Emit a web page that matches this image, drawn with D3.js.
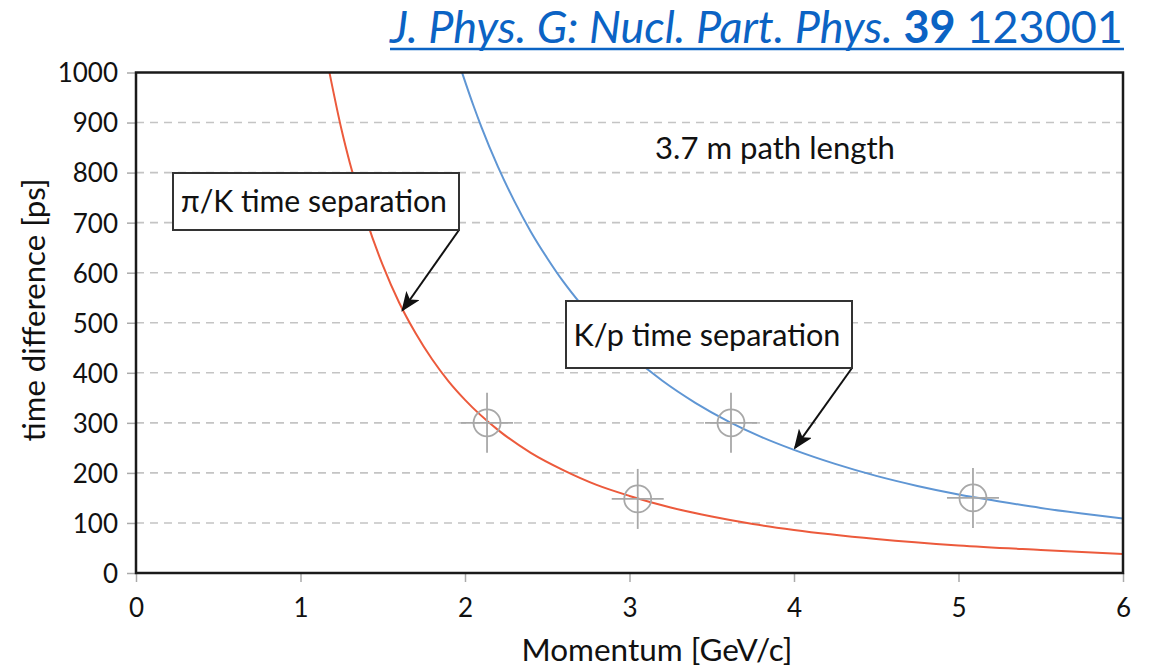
<!DOCTYPE html>
<html>
<head>
<meta charset="utf-8">
<script src="https://cdn.jsdelivr.net/npm/d3@7"></script>
<style>
  body { margin: 0; background: #fff; }
  svg { display: block; }
  text { font-family: Lato, "Open Sans", sans-serif; }
</style>
</head>
<body>
<svg id="chart" width="1158" height="669"></svg>
<script>
// Time-of-flight difference over a 3.7 m flight path, in ps, vs momentum (GeV/c)
const piKMomentum = [1.176, 1.25, 1.3, 1.4, 1.5, 1.6, 1.7, 1.8, 1.9, 2.0, 2.2, 2.4, 2.6, 2.8, 3.0, 3.25, 3.5, 3.75, 4.0, 4.5, 5.0, 5.5, 6.0];
const piKDelta    = [1000, 885, 819, 706, 615, 540, 479, 427, 383, 346, 286, 240, 205, 176, 154, 131, 113, 98, 86, 68, 55, 46, 38];

const kpMomentum = [1.982, 2.05, 2.1, 2.2, 2.3, 2.4, 2.5, 2.6, 2.7, 2.8, 2.9, 3.0, 3.2, 3.4, 3.6, 3.8, 4.0, 4.25, 4.5, 4.75, 5.0, 5.25, 5.5, 5.75, 6.0];
const kpDelta    = [1000, 935, 891, 812, 743, 682, 629, 581, 539, 501, 467, 437, 384, 340, 303, 272, 246, 218, 194, 174, 157, 143, 130, 119, 109];

// Reference points marked with crosshair circles
const markerMomentum = [2.134, 3.05, 3.617, 5.088];
const markerDelta    = [300, 148, 300, 150];

const xTicks = [0, 1, 2, 3, 4, 5, 6];
const yTicks = [0, 100, 200, 300, 400, 500, 600, 700, 800, 900, 1000];

const citeParts = [
  { text: "J. Phys. G: Nucl. Part. Phys.", style: "italic", weight: "normal" },
  { text: "39", style: "normal", weight: "bold" },
  { text: "123001", style: "normal", weight: "normal" }
];

const svg = d3.select("#chart");
const plotL = 136, plotR = 1123, plotT = 72.5, plotB = 573;

const x = d3.scaleLinear().domain([0, 6]).range([plotL, plotR]);
const y = d3.scaleLinear().domain([0, 1000]).range([plotB, plotT]);

// Scale a text's font size so it spans the given width
function fitWidth(sel, width) {
  const base = parseFloat(sel.style("font-size"));
  const len = sel.node().getComputedTextLength();
  sel.style("font-size", (base * width / len) + "px");
  return sel;
}

// Citation line: separate runs laid out one after another, then fitted to width
const citeX = 390, citeW = 733, citeBase = 43;
const citeG = svg.append("g").attr("fill", "#0b63c4");
const runs = citeG.selectAll("text").data(citeParts).join("text")
  .attr("y", citeBase)
  .style("font-family", "Lato, sans-serif")
  .style("font-style", d => d.style)
  .style("font-weight", d => d.weight)
  .style("font-size", "36px")
  .text(d => d.text);
function layoutCite(size) {
  runs.style("font-size", size + "px");
  const gap = size * 0.24;
  let cx = citeX;
  const widths = [];
  runs.each(function () { widths.push(this.getComputedTextLength()); });
  runs.attr("x", (d, i) => { const p = cx; cx += widths[i] + gap; return p; });
  return cx - gap - citeX;
}
const w0 = layoutCite(36);
layoutCite(36 * citeW / w0);
svg.append("line")
  .attr("x1", citeX).attr("x2", citeX + citeW + 1).attr("y1", 49).attr("y2", 49)
  .attr("stroke", "#0b63c4").attr("stroke-width", 2.5);

// Dashed grid
svg.append("g").selectAll("line")
  .data(yTicks.filter(d => d > 0 && d < 1000))
  .join("line")
  .attr("x1", plotL).attr("x2", plotR)
  .attr("y1", d => y(d)).attr("y2", d => y(d))
  .attr("stroke", "#c4c4c4").attr("stroke-width", 1.6)
  .attr("stroke-dasharray", "8,6");

// Axes
const yAxis = d3.axisLeft(y).tickValues(yTicks).tickSize(9).tickPadding(9).tickFormat(d3.format("d"));
const gy = svg.append("g").attr("transform", `translate(${plotL},0)`).call(yAxis);
const xAxis = d3.axisBottom(x).tickValues(xTicks).tickSize(9).tickPadding(12).tickFormat(d3.format("d"));
const gx = svg.append("g").attr("transform", `translate(0,${plotB})`).call(xAxis);
[gx, gy].forEach(g => {
  g.select(".domain").remove();
  g.selectAll(".tick line").attr("stroke", "#aaa").attr("stroke-width", 1.5);
  g.selectAll(".tick text")
    .attr("fill", "#111")
    .style("font-family", "Lato, sans-serif")
    .style("font-size", "26px");
});
gy.selectAll(".tick text").attr("dy", "0.36em");
gx.selectAll(".tick text").attr("dy", "0.9em");

// Axis titles
fitWidth(svg.append("text")
  .attr("transform", `translate(45,310) rotate(-90)`)
  .attr("text-anchor", "middle")
  .attr("fill", "#111")
  .style("font-size", "26px")
  .text("time difference [ps]"), 263);
fitWidth(svg.append("text")
  .attr("x", 657).attr("y", 661)
  .attr("text-anchor", "middle")
  .attr("fill", "#111")
  .style("font-size", "26px")
  .text("Momentum [GeV/c]"), 271);

// Curves, clipped to the plot frame
svg.append("clipPath").attr("id", "plotClip")
  .append("rect").attr("x", plotL).attr("y", plotT).attr("width", plotR - plotL).attr("height", plotB - plotT);

const line = d3.line().x(d => x(d[0])).y(d => y(d[1])).curve(d3.curveMonotoneX);
const curves = svg.append("g").attr("clip-path", "url(#plotClip)");
curves.append("path")
  .datum(d3.zip(piKMomentum, piKDelta))
  .attr("d", line).attr("fill", "none")
  .attr("stroke", "#ec5a3c").attr("stroke-width", 2);
curves.append("path")
  .datum(d3.zip(kpMomentum, kpDelta))
  .attr("d", line).attr("fill", "none")
  .attr("stroke", "#5f96d4").attr("stroke-width", 2);

// Crosshair markers
const mk = svg.append("g").attr("stroke", "#a8a8a8").attr("fill", "none").attr("stroke-width", 1.8)
  .selectAll("g").data(d3.zip(markerMomentum, markerDelta)).join("g")
  .attr("transform", d => `translate(${x(d[0])},${y(d[1])})`);
mk.append("circle").attr("r", 13.5);
mk.append("line").attr("x1", -26).attr("x2", 26);
mk.append("line").attr("y1", -30).attr("y2", 30);

// Plot frame
svg.append("rect")
  .attr("x", plotL).attr("y", plotT).attr("width", plotR - plotL).attr("height", plotB - plotT)
  .attr("fill", "none").attr("stroke", "#1a1a1a").attr("stroke-width", 2.5);

// Arrowhead
svg.append("defs").append("marker")
  .attr("id", "head").attr("viewBox", "0 0 20 16")
  .attr("refX", 18).attr("refY", 8)
  .attr("markerWidth", 20).attr("markerHeight", 16)
  .attr("markerUnits", "userSpaceOnUse")
  .attr("orient", "auto")
  .append("path").attr("d", "M0,0 L20,8 L0,16 L5,8 Z").attr("fill", "#111");

// Annotations
function note(bx, by, bw, bh, label, textW, tipP, tipV) {
  svg.append("line")
    .attr("x1", bx + bw).attr("y1", by + bh)
    .attr("x2", x(tipP)).attr("y2", y(tipV))
    .attr("stroke", "#111").attr("stroke-width", 2)
    .attr("marker-end", "url(#head)");
  svg.append("rect")
    .attr("x", bx).attr("y", by).attr("width", bw).attr("height", bh)
    .attr("fill", "#fff").attr("stroke", "#333").attr("stroke-width", 2);
  fitWidth(svg.append("text")
    .attr("x", bx + bw / 2 - 2).attr("y", by + bh / 2)
    .attr("dy", "0.36em")
    .attr("text-anchor", "middle")
    .attr("fill", "#111")
    .style("font-size", "26px")
    .text(label), textW);
}
note(173, 173, 286, 57, "π/K time separation", 266, 1.62, 525);
note(566, 301, 286, 67, "K/p time separation", 267, 4.006, 250);

fitWidth(svg.append("text")
  .attr("x", 775).attr("y", 159)
  .attr("text-anchor", "middle")
  .attr("fill", "#111")
  .style("font-size", "25px")
  .text("3.7 m path length"), 240);
</script>
</body>
</html>
